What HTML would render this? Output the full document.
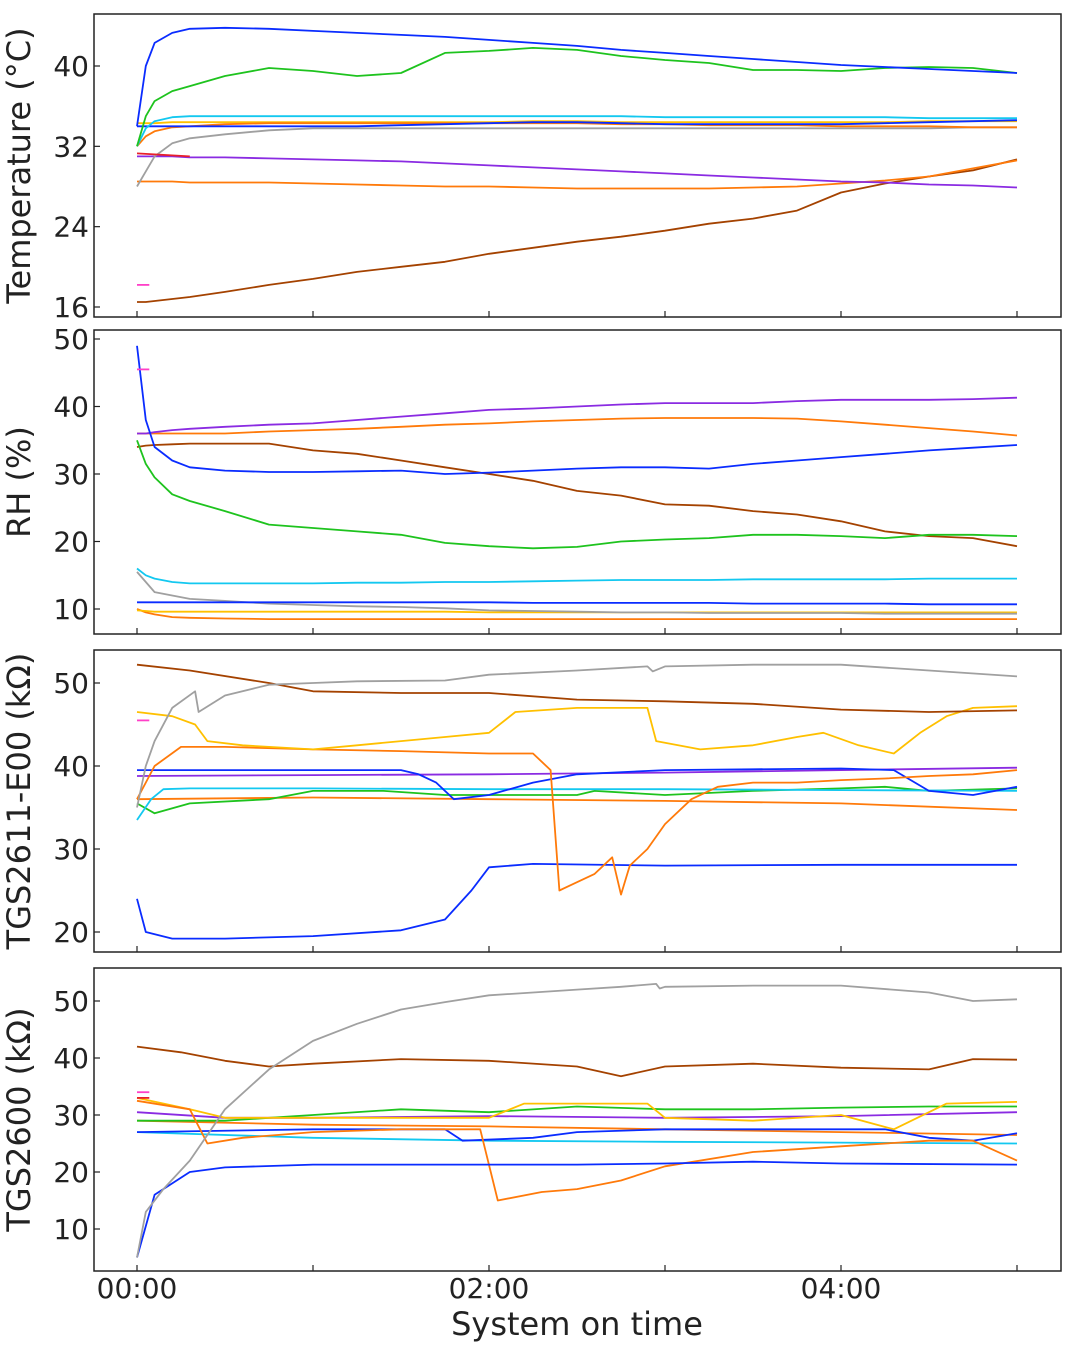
<!DOCTYPE html>
<html><head><meta charset="utf-8"><style>
body{margin:0;background:#fff;}
svg{display:block;font-family:"DejaVu Sans","Liberation Sans",sans-serif;}
</style></head><body>
<svg id="chart" width="1076" height="1355" viewBox="0 0 1076 1355"></svg>
<script>
const C={blue:'#0a2cff',green:'#1ec31e',cyan:'#13c8f0',orange:'#ff7a0a',gold:'#ffc000',gray:'#a0a0a0',purple:'#8a2be2',brown:'#a44200',red:'#e8202a',pink:'#ff40c8'};
const xTickVals=[0,1,2,3,4,5];
const xTickLabels={0:'00:00',2:'02:00',4:'04:00'};
const p1Ticks=[16,24,32,40];
const p2Ticks=[10,20,30,40,50];
const p3Ticks=[20,30,40,50];
const p4Ticks=[10,20,30,40,50];
const tT=[0,0.05,0.1,0.2,0.3,0.5,0.75,1,1.25,1.5,1.75,2,2.25,2.5,2.75,3,3.25,3.5,3.75,4,4.25,4.5,4.75,5];
const temp_blue=[34,40,42.3,43.3,43.7,43.8,43.7,43.5,43.3,43.1,42.9,42.6,42.3,42,41.6,41.3,41,40.7,40.4,40.1,39.9,39.7,39.5,39.3];
const temp_green=[32,35,36.5,37.5,38,39,39.8,39.5,39,39.3,41.3,41.5,41.8,41.6,41,40.6,40.3,39.6,39.6,39.5,39.8,39.9,39.8,39.3];
const temp_cyan=[32,33.8,34.5,34.9,35,35,35,35,35,35,35,35,35,35,35,34.9,34.9,34.9,34.9,34.9,34.9,34.8,34.8,34.8];
const temp_orange=[32,33,33.5,33.9,34,34.2,34.3,34.3,34.3,34.3,34.3,34.3,34.3,34.3,34.2,34.2,34.1,34.1,34.1,34,34,34,33.9,33.9];
const temp_gold=[34.3,34.3,34.3,34.4,34.4,34.4,34.4,34.4,34.4,34.4,34.4,34.4,34.5,34.5,34.4,34.4,34.4,34.4,34.4,34.4,34.4,34.5,34.5,34.5];
const temp_blue2=[34,34,34,34,34,34,34,34,34,34.1,34.2,34.3,34.4,34.4,34.3,34.2,34.2,34.2,34.2,34.2,34.3,34.4,34.5,34.6];
const temp_gray=[28,29.5,31,32.3,32.8,33.2,33.6,33.8,33.8,33.8,33.8,33.8,33.8,33.8,33.8,33.8,33.8,33.8,33.8,33.8,33.8,33.8,33.9,33.9];
const temp_purple=[31,31,31,31,30.9,30.9,30.8,30.7,30.6,30.5,30.3,30.1,29.9,29.7,29.5,29.3,29.1,28.9,28.7,28.5,28.4,28.2,28.1,27.9];
const temp_orange2=[28.5,28.5,28.5,28.5,28.4,28.4,28.4,28.3,28.2,28.1,28,28,27.9,27.8,27.8,27.8,27.8,27.9,28,28.3,28.6,29,29.8,30.6];
const temp_brown=[16.5,16.5,16.6,16.8,17,17.5,18.2,18.8,19.5,20,20.5,21.3,21.9,22.5,23,23.6,24.3,24.8,25.6,27.4,28.3,29,29.6,30.7];
const temp_red_t=[0,0.3];const temp_red=[31.3,31];
const temp_pink_t=[0,0.07];const temp_pink=[18.2,18.2];
const tR=[0,0.05,0.1,0.2,0.3,0.5,0.75,1,1.25,1.5,1.75,2,2.25,2.5,2.75,3,3.25,3.5,3.75,4,4.25,4.5,4.75,5];
const rh_blue=[49,38,34,32,31,30.5,30.3,30.3,30.4,30.5,30,30.2,30.5,30.8,31,31,30.8,31.5,32,32.5,33,33.5,33.9,34.3];
const rh_green=[35,31.5,29.5,27,26,24.5,22.5,22,21.5,21,19.8,19.3,19,19.2,20,20.3,20.5,21,21,20.8,20.5,21,21,20.8];
const rh_purple=[36,36,36.2,36.5,36.7,37,37.3,37.5,38,38.5,39,39.5,39.7,40,40.3,40.5,40.5,40.5,40.8,41,41,41,41.1,41.3];
const rh_orange=[36,36,36,36,36,36,36.3,36.5,36.7,37,37.3,37.5,37.8,38,38.2,38.3,38.3,38.3,38.2,37.8,37.3,36.8,36.3,35.7];
const rh_brown=[34,34.2,34.3,34.4,34.5,34.5,34.5,33.5,33,32,31,30,29,27.5,26.8,25.5,25.3,24.5,24,23,21.5,20.8,20.5,19.3];
const rh_cyan=[16,15,14.5,14,13.8,13.8,13.8,13.8,13.9,13.9,14,14,14.1,14.2,14.3,14.3,14.3,14.4,14.4,14.4,14.4,14.5,14.5,14.5];
const rh_gray=[15.5,14,12.5,12,11.5,11.2,10.8,10.6,10.4,10.3,10.1,9.8,9.7,9.6,9.5,9.5,9.4,9.4,9.4,9.4,9.3,9.3,9.3,9.3];
const rh_blue2=[11,11,11,11,11,11,11,11,11,11,11,11,10.9,10.9,10.9,10.9,10.9,10.8,10.8,10.8,10.8,10.7,10.7,10.7];
const rh_gold=[9.8,9.7,9.6,9.6,9.6,9.6,9.6,9.6,9.6,9.6,9.6,9.5,9.5,9.5,9.5,9.5,9.5,9.5,9.5,9.5,9.5,9.5,9.5,9.5];
const rh_orange2=[10,9.5,9.2,8.8,8.7,8.6,8.5,8.5,8.5,8.5,8.5,8.5,8.5,8.5,8.5,8.5,8.5,8.5,8.5,8.5,8.5,8.5,8.5,8.5];
const rh_pink_t=[0,0.07];const rh_pink=[45.5,45.5];
const g1_gray_t=[0,0.05,0.1,0.2,0.33,0.35,0.5,0.75,1,1.25,1.75,2,2.5,2.9,2.93,3,3.5,4,4.5,5];
const g1_gray=[35,40,43,47,49,46.5,48.5,49.8,50,50.2,50.3,51,51.5,52,51.4,52,52.2,52.2,51.5,50.8];
const g1_brown_t=[0,0.3,0.75,1,1.5,2,2.5,3,3.5,4,4.5,5];
const g1_brown=[52.2,51.5,50,49,48.8,48.8,48,47.8,47.5,46.8,46.5,46.7];
const g1_gold_t=[0,0.2,0.33,0.4,0.6,0.75,1,1.25,1.5,1.75,2,2.15,2.5,2.9,2.95,3.2,3.5,3.75,3.9,4.1,4.3,4.45,4.6,4.75,5];
const g1_gold=[46.5,46,45,43,42.5,42.3,42,42.5,43,43.5,44,46.5,47,47,43,42,42.5,43.5,44,42.5,41.5,44,46,47,47.2];
const g1_orange_t=[0,0.1,0.25,0.5,1,1.5,2,2.25,2.35,2.4,2.5,2.6,2.7,2.75,2.8,2.9,3,3.15,3.3,3.5,3.75,4,4.25,4.5,4.75,5];
const g1_orange=[36,40,42.3,42.3,42,41.8,41.5,41.5,39.5,25,26,27,29,24.5,28,30,33,36,37.5,38,38,38.3,38.5,38.8,39,39.5];
const g1_blue_t=[0,0.5,1,1.5,1.6,1.7,1.8,2,2.25,2.5,3,3.5,4,4.3,4.5,4.75,5];
const g1_blue=[39.5,39.5,39.5,39.5,39,38,36,36.5,38,39,39.5,39.6,39.7,39.5,37,36.5,37.5];
const g1_purple_t=[0,1,2,3,4,5];
const g1_purple=[38.8,38.9,39,39.2,39.5,39.8];
const g1_cyan_t=[0,0.08,0.15,0.3,1,2,3,4,5];
const g1_cyan=[33.5,36,37.2,37.3,37.3,37.2,37.2,37.1,37];
const g1_green_t=[0,0.1,0.3,0.75,1,1.4,1.75,2.5,2.6,3,3.5,4,4.25,4.5,5];
const g1_green=[35.5,34.3,35.5,36,37,37,36.5,36.5,37,36.5,37,37.3,37.5,37,37.3];
const g1_orange2_t=[0,1,2,3,4,5];
const g1_orange2=[36,36.2,36,35.8,35.5,34.7];
const g1_blue2_t=[0,0.05,0.2,0.5,1,1.5,1.75,1.9,2,2.25,3,4,5];
const g1_blue2=[24,20,19.2,19.2,19.5,20.2,21.5,25,27.8,28.2,28,28.1,28.1];
const g1_pink_t=[0,0.07];const g1_pink=[45.5,45.5];
const g2_gray_t=[0,0.05,0.15,0.3,0.5,0.75,1,1.25,1.5,1.75,2,2.25,2.5,2.75,2.95,2.97,3,3.5,4,4.5,4.75,5];
const g2_gray=[5,13,17,22,31,38,43,46,48.5,49.8,51,51.5,52,52.5,53,52.2,52.5,52.7,52.7,51.5,50,50.3];
const g2_brown_t=[0,0.25,0.5,0.75,1,1.5,2,2.5,2.75,3,3.5,4,4.5,4.75,5];
const g2_brown=[42,41,39.5,38.5,39,39.8,39.5,38.5,36.8,38.5,39,38.3,38,39.8,39.7];
const g2_gold_t=[0,0.3,0.5,1,2,2.2,2.9,3,3.5,4,4.3,4.6,5];
const g2_gold=[33,31,29.5,29.5,29.5,32,32,29.5,29,30,27.5,32,32.3];
const g2_green_t=[0,0.5,1,1.5,2,2.5,3,3.5,4,4.5,5];
const g2_green=[29,29,30,31,30.5,31.5,31,31,31.3,31.5,31.5];
const g2_purple_t=[0,0.5,1,2,3,4,5];
const g2_purple=[30.5,29.5,29.5,29.8,29.5,29.8,30.5];
const g2_orange_t=[0,0.3,0.4,0.6,1,1.5,1.95,2.05,2.3,2.5,2.75,3,3.5,4,4.5,4.75,5];
const g2_orange=[32.5,31,25,26,27,27.5,27.5,15,16.5,17,18.5,21,23.5,24.5,25.5,25.5,22];
const g2_orange2_t=[0,1,2,3,4,5];
const g2_orange2=[29,28.3,28,27.5,27,26.5];
const g2_blue_t=[0,1,1.75,1.85,2.25,2.5,3,4.25,4.5,4.75,5];
const g2_blue=[27,27.5,27.5,25.5,26,27,27.5,27.5,26,25.5,26.8];
const g2_cyan_t=[0,1,2,3,5];
const g2_cyan=[27,26,25.5,25.3,25];
const g2_blue2_t=[0,0.1,0.3,0.5,1,1.5,2,2.5,3,3.5,4,5];
const g2_blue2=[5,16,20,20.8,21.3,21.3,21.3,21.3,21.5,21.8,21.5,21.3];
const g2_pink_t=[0,0.07];const g2_pink=[34,34];
const g2_red_t=[0,0.07];const g2_red=[33,33];

const NS='http://www.w3.org/2000/svg';
const svg=document.getElementById('chart');
function el(tag,attrs,parent){const e=document.createElementNS(NS,tag);for(const k in attrs)e.setAttribute(k,attrs[k]);(parent||svg).appendChild(e);return e;}
const X0=94,X1=1061;
function xs(h){return 137+h*176;}
function makePanel(name,top,bottom,vA,yA,vB,yB,ticks,title){
  const g=el('g',{});
  
  
  const ys=v=>yA+(v-vA)*(yB-yA)/(vB-vA);
  const fr=el('rect',{x:X0,y:top,width:X1-X0,height:bottom-top,fill:'none',stroke:'#222','stroke-width':1.5},g);
  
  
  ticks.forEach(v=>{
    const y=ys(v);
    el('line',{x1:X0,x2:X0+6,y1:y,y2:y,stroke:'#222','stroke-width':1.2},g);
    const t=el('text',{x:X0-5,y:y+10,'text-anchor':'end','font-size':28,fill:'#222'},g);
    t.textContent=v;
    
    
  });
  xTickVals.forEach(h=>{const x=xs(h);el('line',{x1:x,x2:x,y1:bottom,y2:bottom-6,stroke:'#222','stroke-width':1.2},g);});
  const tt=el('text',{x:0,y:0,'text-anchor':'middle','font-size':32,fill:'#222',transform:`translate(30,${(top+bottom)/2}) rotate(-90)`},g);
  tt.textContent=title;
  
  
  return {g,ys};
}
function series(P,name,t,v,color){
  const d=t.map((h,i)=>(i?'L':'M')+xs(h).toFixed(1)+','+P.ys(v[i]).toFixed(1)).join('');
  const p=el('path',{d,fill:'none',stroke:color,'stroke-width':1.8,'stroke-linejoin':'round'},P.g);
  
  
}
const P1=makePanel('temperature-panel',14,317,40,66,16,307,p1Ticks,'Temperature (°C)');
series(P1,'temp-brown',tT,temp_brown,C.brown);
series(P1,'temp-orange2',tT,temp_orange2,C.orange);
series(P1,'temp-purple',tT,temp_purple,C.purple);
series(P1,'temp-gray',tT,temp_gray,C.gray);
series(P1,'temp-gold',tT,temp_gold,C.gold);
series(P1,'temp-orange',tT,temp_orange,C.orange);
series(P1,'temp-blue2',tT,temp_blue2,C.blue);
series(P1,'temp-cyan',tT,temp_cyan,C.cyan);
series(P1,'temp-green',tT,temp_green,C.green);
series(P1,'temp-blue',tT,temp_blue,C.blue);
series(P1,'temp-red',temp_red_t,temp_red,C.red);
series(P1,'temp-pink',temp_pink_t,temp_pink,C.pink);

const P2=makePanel('rh-panel',330,634,50,339,10,609,p2Ticks,'RH (%)');
series(P2,'rh-orange2',tR,rh_orange2,C.orange);
series(P2,'rh-gold',tR,rh_gold,C.gold);
series(P2,'rh-gray',tR,rh_gray,C.gray);
series(P2,'rh-blue2',tR,rh_blue2,C.blue);
series(P2,'rh-cyan',tR,rh_cyan,C.cyan);
series(P2,'rh-brown',tR,rh_brown,C.brown);
series(P2,'rh-orange',tR,rh_orange,C.orange);
series(P2,'rh-purple',tR,rh_purple,C.purple);
series(P2,'rh-green',tR,rh_green,C.green);
series(P2,'rh-blue',tR,rh_blue,C.blue);
series(P2,'rh-pink',rh_pink_t,rh_pink,C.pink);

const P3=makePanel('tgs2611-panel',650,952,50,683,20,932,p3Ticks,'TGS2611-E00 (kΩ)');
series(P3,'tgs2611-orange2',g1_orange2_t,g1_orange2,C.orange);
series(P3,'tgs2611-green',g1_green_t,g1_green,C.green);
series(P3,'tgs2611-cyan',g1_cyan_t,g1_cyan,C.cyan);
series(P3,'tgs2611-purple',g1_purple_t,g1_purple,C.purple);
series(P3,'tgs2611-blue',g1_blue_t,g1_blue,C.blue);
series(P3,'tgs2611-blue2',g1_blue2_t,g1_blue2,C.blue);
series(P3,'tgs2611-orange',g1_orange_t,g1_orange,C.orange);
series(P3,'tgs2611-gold',g1_gold_t,g1_gold,C.gold);
series(P3,'tgs2611-brown',g1_brown_t,g1_brown,C.brown);
series(P3,'tgs2611-gray',g1_gray_t,g1_gray,C.gray);
series(P3,'tgs2611-pink',g1_pink_t,g1_pink,C.pink);

const P4=makePanel('tgs2600-panel',968,1271,50,1001,10,1229,p4Ticks,'TGS2600 (kΩ)');
series(P4,'tgs2600-cyan',g2_cyan_t,g2_cyan,C.cyan);
series(P4,'tgs2600-orange2',g2_orange2_t,g2_orange2,C.orange);
series(P4,'tgs2600-purple',g2_purple_t,g2_purple,C.purple);
series(P4,'tgs2600-green',g2_green_t,g2_green,C.green);
series(P4,'tgs2600-gold',g2_gold_t,g2_gold,C.gold);
series(P4,'tgs2600-blue',g2_blue_t,g2_blue,C.blue);
series(P4,'tgs2600-orange',g2_orange_t,g2_orange,C.orange);
series(P4,'tgs2600-blue2',g2_blue2_t,g2_blue2,C.blue);
series(P4,'tgs2600-brown',g2_brown_t,g2_brown,C.brown);
series(P4,'tgs2600-gray',g2_gray_t,g2_gray,C.gray);
series(P4,'tgs2600-pink',g2_pink_t,g2_pink,C.pink);
series(P4,'tgs2600-red',g2_red_t,g2_red,C.red);

Object.keys(xTickLabels).forEach(h=>{
  const t=el('text',{x:xs(+h),y:1298,'text-anchor':'middle','font-size':28,fill:'#222'});
  t.textContent=xTickLabels[h];
  
  
});
const xt=el('text',{x:577,y:1335,'text-anchor':'middle','font-size':32,fill:'#222'});
xt.textContent='System on time';


</script>
</body></html>
